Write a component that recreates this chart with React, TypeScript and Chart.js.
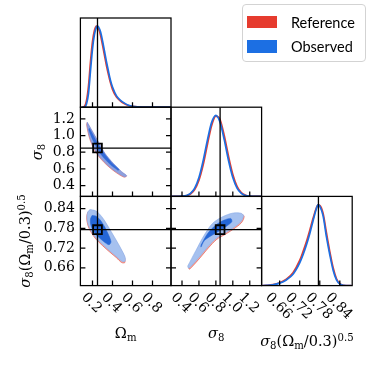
import React, { useEffect, useRef } from 'react';
import { Chart, registerables } from 'chart.js';

Chart.register(...registerables);

// ---------------- data ----------------
const TRUTH_OM = 0.25;
const TRUTH_SIG = 0.85;
const TRUTH_S8 = 0.776;

const OM_RANGE = [0.079, 0.985];
const SIG_RANGE = [0.27, 1.34];
const S8_RANGE = [0.606, 0.877];
const PDF_RANGE = [0, 1.1];

const OM_TICKS = [0.2, 0.4, 0.6, 0.8];
const OM_TICK_LABELS = ['0.2', '0.4', '0.6', '0.8'];
const SIG_TICKS = [0.4, 0.6, 0.8, 1.0, 1.2];
const SIG_TICK_LABELS = ['0.4', '0.6', '0.8', '1.0', '1.2'];
const S8_TICKS = [0.66, 0.72, 0.78, 0.84];
const S8_TICK_LABELS = ['0.66', '0.72', '0.78', '0.84'];

const SERIES_NAMES = ['Reference', 'Observed'];

// 1D marginal: Omega_m
const OM_GRID = [0.10, 0.12, 0.14, 0.16, 0.18, 0.20, 0.22, 0.24, 0.25, 0.26, 0.28, 0.30, 0.32, 0.34, 0.36, 0.38, 0.40, 0.44, 0.48, 0.52, 0.56, 0.60, 0.70, 0.98];
const OM_PDF_REF = [0, 0.01, 0.08, 0.26, 0.56, 0.81, 0.95, 1.0, 0.99, 0.97, 0.89, 0.77, 0.64, 0.51, 0.40, 0.30, 0.22, 0.125, 0.075, 0.042, 0.021, 0.01, 0.001, 0];
const OM_PDF_OBS = [0, 0, 0.04, 0.17, 0.45, 0.72, 0.90, 0.99, 1.0, 0.99, 0.93, 0.82, 0.69, 0.56, 0.44, 0.33, 0.25, 0.14, 0.085, 0.05, 0.025, 0.012, 0.002, 0];

// 1D marginal: sigma_8
const SIG_GRID = [0.27, 0.35, 0.40, 0.45, 0.50, 0.55, 0.60, 0.65, 0.70, 0.75, 0.80, 0.85, 0.90, 0.95, 1.00, 1.05, 1.10, 1.15, 1.20, 1.25, 1.34];
const SIG_PDF_REF = [0, 0.0005, 0.002, 0.008, 0.03, 0.085, 0.20, 0.39, 0.64, 0.875, 0.99, 0.945, 0.745, 0.49, 0.27, 0.125, 0.047, 0.015, 0.004, 0.001, 0];
const SIG_PDF_OBS = [0, 0.001, 0.003, 0.011, 0.037, 0.102, 0.232, 0.44, 0.694, 0.913, 1.0, 0.913, 0.694, 0.44, 0.232, 0.102, 0.037, 0.011, 0.003, 0.001, 0];

// 1D marginal: S8
const S8_GRID = [0.606, 0.62, 0.64, 0.66, 0.68, 0.70, 0.72, 0.73, 0.74, 0.75, 0.76, 0.77, 0.775, 0.78, 0.79, 0.80, 0.81, 0.82, 0.83, 0.84, 0.85, 0.875];
const S8_PDF_REF = [0, 0.003, 0.012, 0.035, 0.08, 0.16, 0.31, 0.42, 0.54, 0.68, 0.83, 0.96, 0.995, 0.99, 0.89, 0.65, 0.42, 0.22, 0.085, 0.025, 0.004, 0];
const S8_PDF_OBS = [0, 0.002, 0.01, 0.03, 0.07, 0.14, 0.28, 0.38, 0.50, 0.64, 0.80, 0.95, 1.0, 0.98, 0.86, 0.60, 0.38, 0.19, 0.07, 0.02, 0.003, 0];

// 2D contours: Omega_m vs sigma_8
const OS_REF_OUTER_OM = [0.146, 0.190, 0.256, 0.323, 0.406, 0.490, 0.540, 0.515, 0.439, 0.355, 0.282, 0.222, 0.172, 0.142];
const OS_REF_OUTER_SIG = [1.155, 1.063, 0.923, 0.782, 0.662, 0.562, 0.514, 0.501, 0.553, 0.633, 0.721, 0.822, 0.961, 1.122];
const OS_OBS_OUTER_OM = [0.148, 0.192, 0.258, 0.325, 0.408, 0.492, 0.542, 0.518, 0.442, 0.358, 0.285, 0.225, 0.175, 0.145];
const OS_OBS_OUTER_SIG = [1.16, 1.068, 0.928, 0.787, 0.667, 0.567, 0.519, 0.507, 0.559, 0.639, 0.727, 0.828, 0.967, 1.128];
const OS_OBS_INNER_OM = [0.17, 0.235, 0.315, 0.395, 0.465, 0.455, 0.375, 0.285, 0.215, 0.162];
const OS_OBS_INNER_SIG = [1.09, 0.945, 0.790, 0.672, 0.595, 0.582, 0.655, 0.772, 0.916, 1.068];

// 2D contours: Omega_m vs S8
const OS8_REF_OUTER_OM = [0.172, 0.222, 0.262, 0.312, 0.372, 0.432, 0.482, 0.522, 0.523, 0.492, 0.442, 0.372, 0.302, 0.232, 0.182, 0.152, 0.142, 0.152];
const OS8_REF_OUTER_S8 = [0.834, 0.831, 0.822, 0.803, 0.773, 0.742, 0.715, 0.690, 0.676, 0.676, 0.690, 0.708, 0.727, 0.748, 0.770, 0.791, 0.813, 0.828];
const OS8_OBS_OUTER_OM = [0.175, 0.225, 0.265, 0.315, 0.375, 0.435, 0.485, 0.525, 0.525, 0.495, 0.445, 0.375, 0.305, 0.235, 0.185, 0.155, 0.145, 0.155];
const OS8_OBS_OUTER_S8 = [0.837, 0.834, 0.825, 0.806, 0.776, 0.745, 0.718, 0.693, 0.680, 0.680, 0.693, 0.711, 0.730, 0.751, 0.773, 0.794, 0.816, 0.831];
const OS8_OBS_INNER_OM = [0.195, 0.235, 0.275, 0.315, 0.355, 0.385, 0.365, 0.315, 0.255, 0.205, 0.18, 0.18];
const OS8_OBS_INNER_S8 = [0.819, 0.817, 0.806, 0.788, 0.764, 0.739, 0.730, 0.739, 0.755, 0.773, 0.794, 0.809];

// 2D contours: sigma_8 vs S8
const SS8_REF_OUTER_SIG = [0.475, 0.573, 0.670, 0.769, 0.887, 1.004, 1.102, 1.134, 1.102, 1.004, 0.906, 0.808, 0.710, 0.612, 0.514, 0.487];
const SS8_REF_OUTER_S8 = [0.662, 0.710, 0.756, 0.792, 0.812, 0.823, 0.823, 0.816, 0.797, 0.777, 0.761, 0.746, 0.720, 0.690, 0.662, 0.656];
const SS8_OBS_OUTER_SIG = [0.467, 0.565, 0.662, 0.761, 0.879, 0.996, 1.094, 1.126, 1.094, 0.996, 0.898, 0.800, 0.702, 0.604, 0.506, 0.479];
const SS8_OBS_OUTER_S8 = [0.665, 0.713, 0.759, 0.795, 0.815, 0.826, 0.826, 0.819, 0.800, 0.780, 0.764, 0.749, 0.723, 0.693, 0.665, 0.659];
const SS8_OBS_INNER_SIG = [0.624, 0.702, 0.80, 0.898, 0.976, 0.988, 0.918, 0.839, 0.741, 0.662, 0.624];
const SS8_OBS_INNER_S8 = [0.729, 0.764, 0.790, 0.805, 0.810, 0.800, 0.785, 0.772, 0.757, 0.742, 0.723];

// ---------------- styling / layout ----------------
const FIG = 374;
const COL_X = [80.4, 171.0, 261.6, 352.2];
const ROW_Y = [18, 107.2, 196.4, 285.6];
const RED = '#e63b2e';
const BLUE = '#1c6fe3';
const RED_LIGHT = '#f2aea6';
const BLUE_LIGHT = '#a6c1ef';
const BLUE_DARK = '#2466d6';
const SERIF = '"DejaVu Serif", serif';
const TICK_LEN = 5;

const toPts = (xs: number[], ys: number[]) => xs.map((x, i) => ({ x, y: ys[i] }));

function curveDs(xs: number[], ys: number[], color: string, order: number) {
  return {
    data: toPts(xs, ys), borderColor: color, borderWidth: 1.7, pointRadius: 0,
    fill: false, cubicInterpolationMode: 'monotone', order,
  };
}
function polyDs(xs: number[], ys: number[], fillColor: string, edge: string, edgeW: number, order: number) {
  const pts = toPts(xs, ys);
  pts.push(pts[0]);
  return {
    data: pts, borderColor: edge, borderWidth: edgeW, backgroundColor: fillColor,
    fill: 'shape', tension: 0.3, pointRadius: 0, order,
  };
}
function segDs(xs: number[], ys: number[]) {
  return { data: toPts(xs, ys), borderColor: '#000', borderWidth: 1.3, pointRadius: 0, fill: false, tension: 0, order: 0 };
}
function markerDs(x: number, y: number) {
  return {
    data: [{ x, y }], showLine: false, pointStyle: 'rect', pointRadius: 6.2,
    pointBorderWidth: 1.8, pointBorderColor: '#000', pointBackgroundColor: 'rgba(0,0,0,0)', order: -1,
  };
}

type PanelSpec = {
  col: number; row: number;
  xr: number[]; yr: number[];
  datasets: any[];
  xTicks: number[]; xLabels: string[];
  yTicks?: number[]; yLabels?: string[];
  diag: boolean; showX: boolean; showY: boolean;
};

function axesPlugin(p: PanelSpec) {
  return {
    id: 'cornerAxes',
    afterDraw(chart: any) {
      const { ctx, chartArea: a, scales } = chart;
      ctx.save();
      ctx.strokeStyle = '#000';
      ctx.lineWidth = 1.25;
      ctx.strokeRect(a.left, a.top, a.right - a.left, a.bottom - a.top);
      ctx.beginPath();
      p.xTicks.forEach((v) => {
        const x = scales.x.getPixelForValue(v);
        ctx.moveTo(x, a.bottom);
        ctx.lineTo(x, a.bottom - TICK_LEN);
      });
      if (!p.diag && p.yTicks) {
        p.yTicks.forEach((v) => {
          const y = scales.y.getPixelForValue(v);
          ctx.moveTo(a.left, y);
          ctx.lineTo(a.left + TICK_LEN, y);
          ctx.moveTo(a.right, y);
          ctx.lineTo(a.right - TICK_LEN, y);
        });
      }
      ctx.stroke();
      ctx.fillStyle = '#000';
      ctx.font = `14px ${SERIF}`;
      if (p.showX) {
        p.xTicks.forEach((v, i) => {
          const t = p.xLabels[i];
          const x = scales.x.getPixelForValue(v);
          const w = ctx.measureText(t).width;
          const bb = (w + 10) * Math.SQRT1_2;
          ctx.save();
          ctx.translate(x - 1, a.bottom + 6 + bb / 2);
          ctx.rotate(Math.PI / 4);
          ctx.textAlign = 'center';
          ctx.textBaseline = 'middle';
          ctx.fillText(t, 0, 0);
          ctx.restore();
        });
      }
      if (p.showY && p.yTicks && p.yLabels) {
        ctx.textAlign = 'right';
        ctx.textBaseline = 'middle';
        p.yTicks.forEach((v, i) => {
          const y = scales.y.getPixelForValue(v);
          ctx.fillText(p.yLabels![i], a.left - 5.5, y);
        });
      }
      ctx.restore();
    },
  };
}

function makeConfig(p: PanelSpec): any {
  return {
    type: 'line',
    data: { datasets: p.datasets },
    options: {
      responsive: false,
      animation: false,
      events: [],
      layout: {
        padding: {
          left: COL_X[p.col], right: FIG - COL_X[p.col + 1],
          top: ROW_Y[p.row], bottom: FIG - ROW_Y[p.row + 1],
        },
      },
      plugins: { legend: { display: false }, tooltip: { enabled: false }, title: { display: false } },
      scales: {
        x: { type: 'linear', display: false, min: p.xr[0], max: p.xr[1] },
        y: { type: 'linear', display: false, min: p.yr[0], max: p.yr[1] },
      },
    },
    plugins: [axesPlugin(p)],
  };
}

const PANELS: PanelSpec[] = [
  {
    col: 0, row: 0, xr: OM_RANGE, yr: PDF_RANGE, diag: true, showX: false, showY: false,
    xTicks: OM_TICKS, xLabels: OM_TICK_LABELS,
    datasets: [
      curveDs(OM_GRID, OM_PDF_OBS, BLUE, 1),
      curveDs(OM_GRID, OM_PDF_REF, RED, 2),
      segDs([TRUTH_OM, TRUTH_OM], PDF_RANGE),
    ],
  },
  {
    col: 0, row: 1, xr: OM_RANGE, yr: SIG_RANGE, diag: false, showX: false, showY: true,
    xTicks: OM_TICKS, xLabels: OM_TICK_LABELS, yTicks: SIG_TICKS, yLabels: SIG_TICK_LABELS,
    datasets: [
      polyDs(OS_REF_OUTER_OM, OS_REF_OUTER_SIG, RED_LIGHT, 'rgba(230,80,70,0.8)', 0.7, 5),
      polyDs(OS_OBS_OUTER_OM, OS_OBS_OUTER_SIG, 'rgba(130,160,228,0.9)', 'rgba(110,140,225,0.8)', 0.6, 3),
      polyDs(OS_OBS_INNER_OM, OS_OBS_INNER_SIG, 'rgba(40,100,215,0.9)', 'rgba(40,100,215,0.6)', 0.4, 2),
      segDs([TRUTH_OM, TRUTH_OM], SIG_RANGE),
      segDs(OM_RANGE, [TRUTH_SIG, TRUTH_SIG]),
      markerDs(TRUTH_OM, TRUTH_SIG),
    ],
  },
  {
    col: 1, row: 1, xr: SIG_RANGE, yr: PDF_RANGE, diag: true, showX: false, showY: false,
    xTicks: SIG_TICKS, xLabels: SIG_TICK_LABELS,
    datasets: [
      curveDs(SIG_GRID, SIG_PDF_OBS, BLUE, 1),
      curveDs(SIG_GRID, SIG_PDF_REF, RED, 2),
      segDs([TRUTH_SIG, TRUTH_SIG], PDF_RANGE),
    ],
  },
  {
    col: 0, row: 2, xr: OM_RANGE, yr: S8_RANGE, diag: false, showX: true, showY: true,
    xTicks: OM_TICKS, xLabels: OM_TICK_LABELS, yTicks: S8_TICKS, yLabels: S8_TICK_LABELS,
    datasets: [
      polyDs(OS8_REF_OUTER_OM, OS8_REF_OUTER_S8, RED_LIGHT, 'rgba(230,80,70,0.8)', 0.8, 5),
      polyDs(OS8_OBS_OUTER_OM, OS8_OBS_OUTER_S8, BLUE_LIGHT, '#8fb0ea', 0.7, 3),
      polyDs(OS8_OBS_INNER_OM, OS8_OBS_INNER_S8, BLUE_DARK, BLUE_DARK, 0.5, 2),
      segDs([TRUTH_OM, TRUTH_OM], S8_RANGE),
      segDs(OM_RANGE, [TRUTH_S8, TRUTH_S8]),
      markerDs(TRUTH_OM, TRUTH_S8),
    ],
  },
  {
    col: 1, row: 2, xr: SIG_RANGE, yr: S8_RANGE, diag: false, showX: true, showY: false,
    xTicks: SIG_TICKS, xLabels: SIG_TICK_LABELS, yTicks: S8_TICKS, yLabels: S8_TICK_LABELS,
    datasets: [
      polyDs(SS8_REF_OUTER_SIG, SS8_REF_OUTER_S8, RED_LIGHT, 'rgba(230,80,70,0.8)', 0.8, 5),
      polyDs(SS8_OBS_OUTER_SIG, SS8_OBS_OUTER_S8, BLUE_LIGHT, '#8fb0ea', 0.7, 3),
      polyDs(SS8_OBS_INNER_SIG, SS8_OBS_INNER_S8, BLUE_DARK, BLUE_DARK, 0.5, 2),
      segDs([TRUTH_SIG, TRUTH_SIG], S8_RANGE),
      segDs(SIG_RANGE, [TRUTH_S8, TRUTH_S8]),
      markerDs(TRUTH_SIG, TRUTH_S8),
    ],
  },
  {
    col: 2, row: 2, xr: S8_RANGE, yr: PDF_RANGE, diag: true, showX: true, showY: false,
    xTicks: S8_TICKS, xLabels: S8_TICK_LABELS,
    datasets: [
      curveDs(S8_GRID, S8_PDF_OBS, BLUE, 1),
      curveDs(S8_GRID, S8_PDF_REF, RED, 2),
      segDs([TRUTH_S8, TRUTH_S8], PDF_RANGE),
    ],
  },
];

function Panel({ spec }: { spec: PanelSpec }) {
  const ref = useRef<HTMLCanvasElement | null>(null);
  useEffect(() => {
    if (!ref.current) return;
    const chart = new Chart(ref.current, makeConfig(spec));
    return () => chart.destroy();
  }, [spec]);
  return (
    <canvas
      ref={ref}
      width={FIG}
      height={FIG}
      style={{ position: 'absolute', left: 0, top: 0, width: FIG, height: FIG }}
    />
  );
}

const sub: React.CSSProperties = { fontSize: '0.7em', position: 'relative', top: '0.3em' };
const sup: React.CSSProperties = { fontSize: '0.7em', position: 'relative', top: '-0.5em' };

const S8Label = () => (
  <>
    <i>σ</i><span style={sub}>8</span>(Ω<span style={sub}>m</span>/0.3)<span style={sup}>0.5</span>
  </>
);

export default function App() {
  const labelBase: React.CSSProperties = {
    position: 'absolute', font: `14.5px ${SERIF}`, lineHeight: '15px', whiteSpace: 'nowrap', color: '#000',
  };
  const legendText: React.CSSProperties = {
    position: 'absolute', left: 291, font: '14.5px Lato, "Noto Sans", sans-serif', lineHeight: '15px',
    whiteSpace: 'nowrap', color: '#000',
  };
  return (
    <div style={{ position: 'fixed', left: 0, top: 0, width: FIG, height: FIG, background: '#fff', overflow: 'hidden' }}>
      {PANELS.map((p, i) => <Panel key={i} spec={p} />)}

      {/* x axis titles */}
      <div style={{ ...labelBase, left: COL_X[0], width: COL_X[1] - COL_X[0], top: 326, textAlign: 'center' }}>
        Ω<span style={sub}>m</span>
      </div>
      <div style={{ ...labelBase, left: COL_X[1], width: COL_X[2] - COL_X[1], top: 326, textAlign: 'center' }}>
        <i>σ</i><span style={sub}>8</span>
      </div>
      <div style={{ ...labelBase, left: COL_X[2] - 20, width: COL_X[3] - COL_X[2] + 40, top: 334, textAlign: 'center' }}>
        <S8Label />
      </div>

      {/* y axis titles */}
      <div style={{ ...labelBase, left: 38, top: 152, transform: 'translate(-50%,-50%) rotate(-90deg)' }}>
        <i>σ</i><span style={sub}>8</span>
      </div>
      <div style={{ ...labelBase, left: 26, top: 241, transform: 'translate(-50%,-50%) rotate(-90deg)' }}>
        <S8Label />
      </div>

      {/* legend */}
      <div style={{
        position: 'absolute', left: 242, top: 4, width: 124, height: 58, boxSizing: 'border-box',
        border: '1px solid #d3d3d3', borderRadius: 4, background: 'rgba(255,255,255,0.8)',
      }} />
      <div style={{ position: 'absolute', left: 247, top: 15.5, width: 30, height: 12.5, background: RED }} />
      <div style={{ position: 'absolute', left: 247, top: 40, width: 30, height: 12.5, background: BLUE }} />
      <div style={{ ...legendText, top: 15 }}>{SERIES_NAMES[0]}</div>
      <div style={{ ...legendText, top: 39 }}>{SERIES_NAMES[1]}</div>
    </div>
  );
}
